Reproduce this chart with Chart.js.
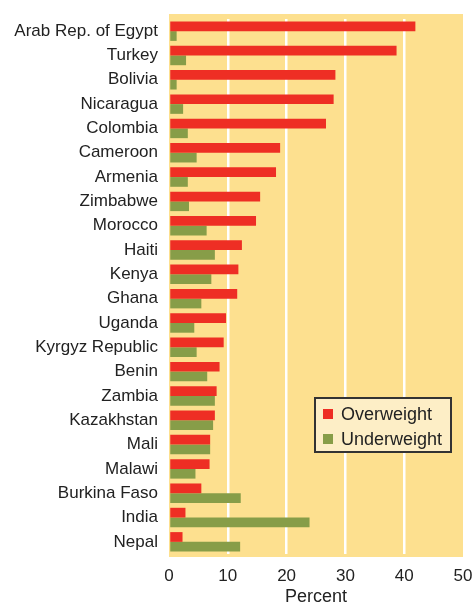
<!DOCTYPE html>
<html>
<head>
<meta charset="utf-8">
<script src="https://cdn.jsdelivr.net/npm/chart.js@4"></script>
<style>
  html, body { margin: 0; padding: 0; background: #fff; }
  #wrap { width: 473px; height: 608px; position: relative; }
</style>
</head>
<body>
<div id="wrap"><canvas id="myChart"></canvas></div>
<script>
const countries = ['Arab Rep. of Egypt', 'Turkey', 'Bolivia', 'Nicaragua', 'Colombia', 'Cameroon', 'Armenia',
  'Zimbabwe', 'Morocco', 'Haiti', 'Kenya', 'Ghana', 'Uganda', 'Kyrgyz Republic', 'Benin', 'Zambia',
  'Kazakhstan', 'Mali', 'Malawi', 'Burkina Faso', 'India', 'Nepal']
const overweight = [41.9, 38.7, 28.3, 28.0, 26.7, 18.9, 18.2, 15.5, 14.8, 12.4, 11.8, 11.6, 9.7, 9.3, 8.6, 8.1,
  7.8, 7.0, 6.9, 5.5, 2.8, 2.3]
const underweight = [1.3, 2.9, 1.3, 2.4, 3.2, 4.7, 3.2, 3.4, 6.4, 7.8, 7.2, 5.5, 4.3, 4.7, 6.5, 7.8,
  7.5, 7.0, 4.5, 12.2, 23.9, 12.1]
const xTicks = [0, 10, 20, 30, 40, 50]

const FONT = "'Liberation Sans', Arial, sans-serif"

// yellow panel behind the bars (a little taller than the bar area)
const panelBg = {
  id: 'panelBg',
  beforeDraw(chart) {
    const { ctx, chartArea: a } = chart
    ctx.save()
    ctx.fillStyle = '#fde08f'
    ctx.fillRect(a.left, a.top - 5, a.right - a.left, a.bottom - a.top + 8)
    ctx.restore()
  }
}

// boxed legend inside the plot
const boxLegend = {
  id: 'boxLegend',
  afterDraw(chart) {
    const { ctx } = chart
    const x = 315, y = 398, w = 136, h = 54
    ctx.save()
    ctx.fillStyle = '#fdeec6'
    ctx.fillRect(x, y, w, h)
    ctx.strokeStyle = '#333'
    ctx.lineWidth = 2
    ctx.strokeRect(x, y, w, h)
    ctx.font = '18px ' + FONT
    ctx.textBaseline = 'middle'
    chart.data.datasets.forEach((ds, i) => {
      const cy = y + 16 + i * 25
      ctx.fillStyle = ds.backgroundColor
      ctx.fillRect(x + 8, cy - 5, 10, 10)
      ctx.fillStyle = '#222'
      ctx.fillText(ds.label, x + 26, cy + 1)
    })
    ctx.restore()
  }
}

new Chart(document.getElementById('myChart'), {
  type: 'bar',
  data: {
    labels: countries,
    datasets: [
      { label: 'Overweight', data: overweight, backgroundColor: '#ee2e24' },
      { label: 'Underweight', data: underweight, backgroundColor: '#879d48' }
    ]
  },
  options: {
    indexAxis: 'y',
    responsive: true,
    maintainAspectRatio: false,
    animation: false,
    layout: { padding: { top: 19, right: 10, left: 0, bottom: 0 } },
    datasets: { bar: { categoryPercentage: 0.8, barPercentage: 1.0 } },
    plugins: { legend: { display: false }, tooltip: { enabled: false } },
    scales: {
      x: {
        min: 0, max: 50,
        afterBuildTicks: (s) => { s.ticks = xTicks.map(v => ({ value: v })) },
        grid: {
          color: (c) => (c.tick && (c.tick.value === 0 || c.tick.value === 50)) ? 'rgba(0,0,0,0)' : '#ffffff',
          lineWidth: 2.5,
          drawTicks: false
        },
        border: { display: false },
        ticks: { color: '#222', font: { family: FONT, size: 17 }, padding: 12 },
        title: { display: true, text: 'Percent', color: '#222', font: { family: FONT, size: 18 }, padding: { top: 3, bottom: 0 } },
        afterFit: (s) => { s.height = 54; s.paddingLeft = 0; s.paddingRight = 0 }
      },
      y: {
        grid: { display: false, drawTicks: false },
        border: { display: false },
        ticks: { color: '#222', font: { family: FONT, size: 17 }, padding: 11, autoSkip: false },
        afterFit: (s) => { s.width = 169; s.paddingTop = 0; s.paddingBottom = 0 }
      }
    }
  },
  plugins: [panelBg, boxLegend]
});
</script>
</body>
</html>
